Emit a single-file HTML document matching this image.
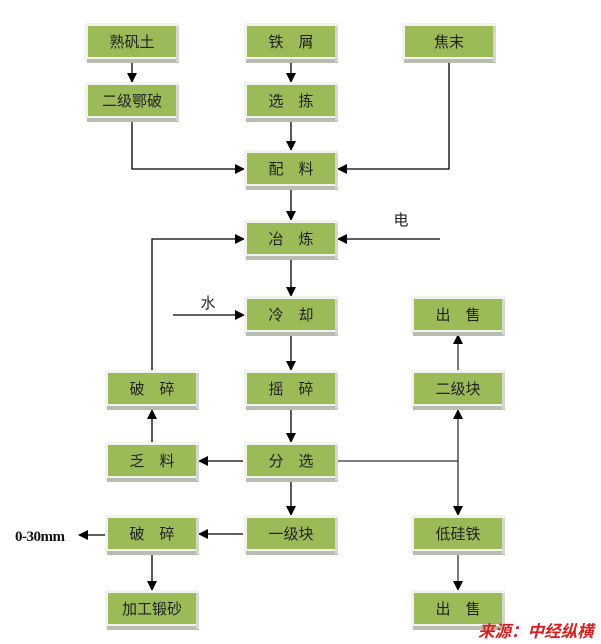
<!DOCTYPE html>
<html><head><meta charset="utf-8"><style>
html,body{margin:0;padding:0;background:#fff;}
svg{display:block;}
text{font-family:"Liberation Sans","Noto Sans CJK SC",sans-serif;}
</style></head><body>
<svg width="601" height="644" viewBox="0 0 601 644" xmlns="http://www.w3.org/2000/svg">
<defs>
<marker id="a" markerWidth="10" markerHeight="10" refX="9" refY="5" orient="auto" markerUnits="userSpaceOnUse">
<path d="M0,0 L10,5 L0,10 z" fill="#000"/>
</marker>
<g id="bx">
<rect x="-3" y="-3" width="94" height="39" fill="#f2f2ee"/>
<rect x="-1" y="33" width="92" height="4" fill="#b9bdb0"/>
<rect x="88" y="0" width="3" height="36" fill="#d4d7cd"/>
<rect x="0" y="0" width="88" height="31" fill="#9bbb59"/>
</g>
</defs>
<g fill="none" stroke="#000" stroke-width="1.3">
<line x1="132" y1="60" x2="132" y2="82" marker-end="url(#a)"/>
<line x1="291" y1="60" x2="291" y2="82" marker-end="url(#a)"/>
<polyline points="132,119 132,169 244,169" marker-end="url(#a)"/>
<line x1="291" y1="119" x2="291" y2="150" marker-end="url(#a)"/>
<polyline points="449,60 449,169 338,169" marker-end="url(#a)"/>
<line x1="291" y1="190" x2="291" y2="220" marker-end="url(#a)"/>
<polyline points="152,370 152,239 244,239" marker-end="url(#a)"/>
<line x1="440" y1="239" x2="338" y2="239" marker-end="url(#a)"/>
<line x1="291" y1="260" x2="291" y2="296" marker-end="url(#a)"/>
<line x1="173" y1="315" x2="244" y2="315" marker-end="url(#a)"/>
<line x1="291" y1="336" x2="291" y2="370" marker-end="url(#a)"/>
<line x1="291" y1="410" x2="291" y2="442" marker-end="url(#a)"/>
<line x1="243" y1="461" x2="199" y2="461" marker-end="url(#a)"/>
<line x1="152" y1="443" x2="152" y2="410" marker-end="url(#a)"/>
<line x1="291" y1="482" x2="291" y2="515" marker-end="url(#a)"/>
<line x1="243" y1="534" x2="199" y2="534" marker-end="url(#a)"/>
<line x1="106" y1="535" x2="79" y2="535" marker-end="url(#a)"/>
<line x1="152" y1="555" x2="152" y2="590" marker-end="url(#a)"/>
<line x1="338" y1="461" x2="458" y2="461" stroke="#333"/>
<line x1="458" y1="461" x2="458" y2="410" marker-end="url(#a)" stroke="#333"/>
<line x1="458" y1="461" x2="458" y2="515" marker-end="url(#a)" stroke="#333"/>
<line x1="458" y1="370" x2="458" y2="335" marker-end="url(#a)" stroke="#333"/>
<line x1="458" y1="555" x2="458" y2="590" marker-end="url(#a)" stroke="#333"/>
</g>
<use href="#bx" x="88" y="26"/>
<use href="#bx" x="247" y="26"/>
<use href="#bx" x="405" y="26"/>
<use href="#bx" x="88" y="85"/>
<use href="#bx" x="247" y="85"/>
<use href="#bx" x="247" y="153"/>
<use href="#bx" x="247" y="223"/>
<use href="#bx" x="247" y="299"/>
<use href="#bx" x="414" y="299"/>
<use href="#bx" x="108" y="373"/>
<use href="#bx" x="247" y="373"/>
<use href="#bx" x="414" y="373"/>
<use href="#bx" x="108" y="445"/>
<use href="#bx" x="247" y="445"/>
<use href="#bx" x="108" y="518"/>
<use href="#bx" x="247" y="518"/>
<use href="#bx" x="414" y="518"/>
<use href="#bx" x="108" y="593"/>
<use href="#bx" x="414" y="593"/>
<g font-size="15" fill="#222" text-anchor="middle">
<text x="132" y="47">熟矾土</text>
<text x="291" y="47">铁　屑</text>
<text x="449" y="47">焦末</text>
<text x="132" y="106">二级鄂破</text>
<text x="291" y="106">选　拣</text>
<text x="291" y="174">配　料</text>
<text x="291" y="244">冶　炼</text>
<text x="291" y="320">冷　却</text>
<text x="458" y="320">出　售</text>
<text x="152" y="394">破　碎</text>
<text x="291" y="394">摇　碎</text>
<text x="458" y="394">二级块</text>
<text x="152" y="466">乏　料</text>
<text x="291" y="466">分　选</text>
<text x="152" y="539">破　碎</text>
<text x="291" y="539">一级块</text>
<text x="458" y="539">低硅铁</text>
<text x="152" y="614">加工锻砂</text>
<text x="458" y="614">出　售</text>
<text x="401" y="225">电</text>
<text x="208" y="308">水</text>
</g>
<text x="15" y="541" style="font-family:'Liberation Serif',serif;font-weight:bold;font-size:15px;letter-spacing:-0.5px" fill="#111">0-30mm</text>
<text x="478" y="637" font-size="16.5" font-weight="bold" font-style="italic" fill="#d42020">来源：中经纵横</text>
</svg>
</body></html>
